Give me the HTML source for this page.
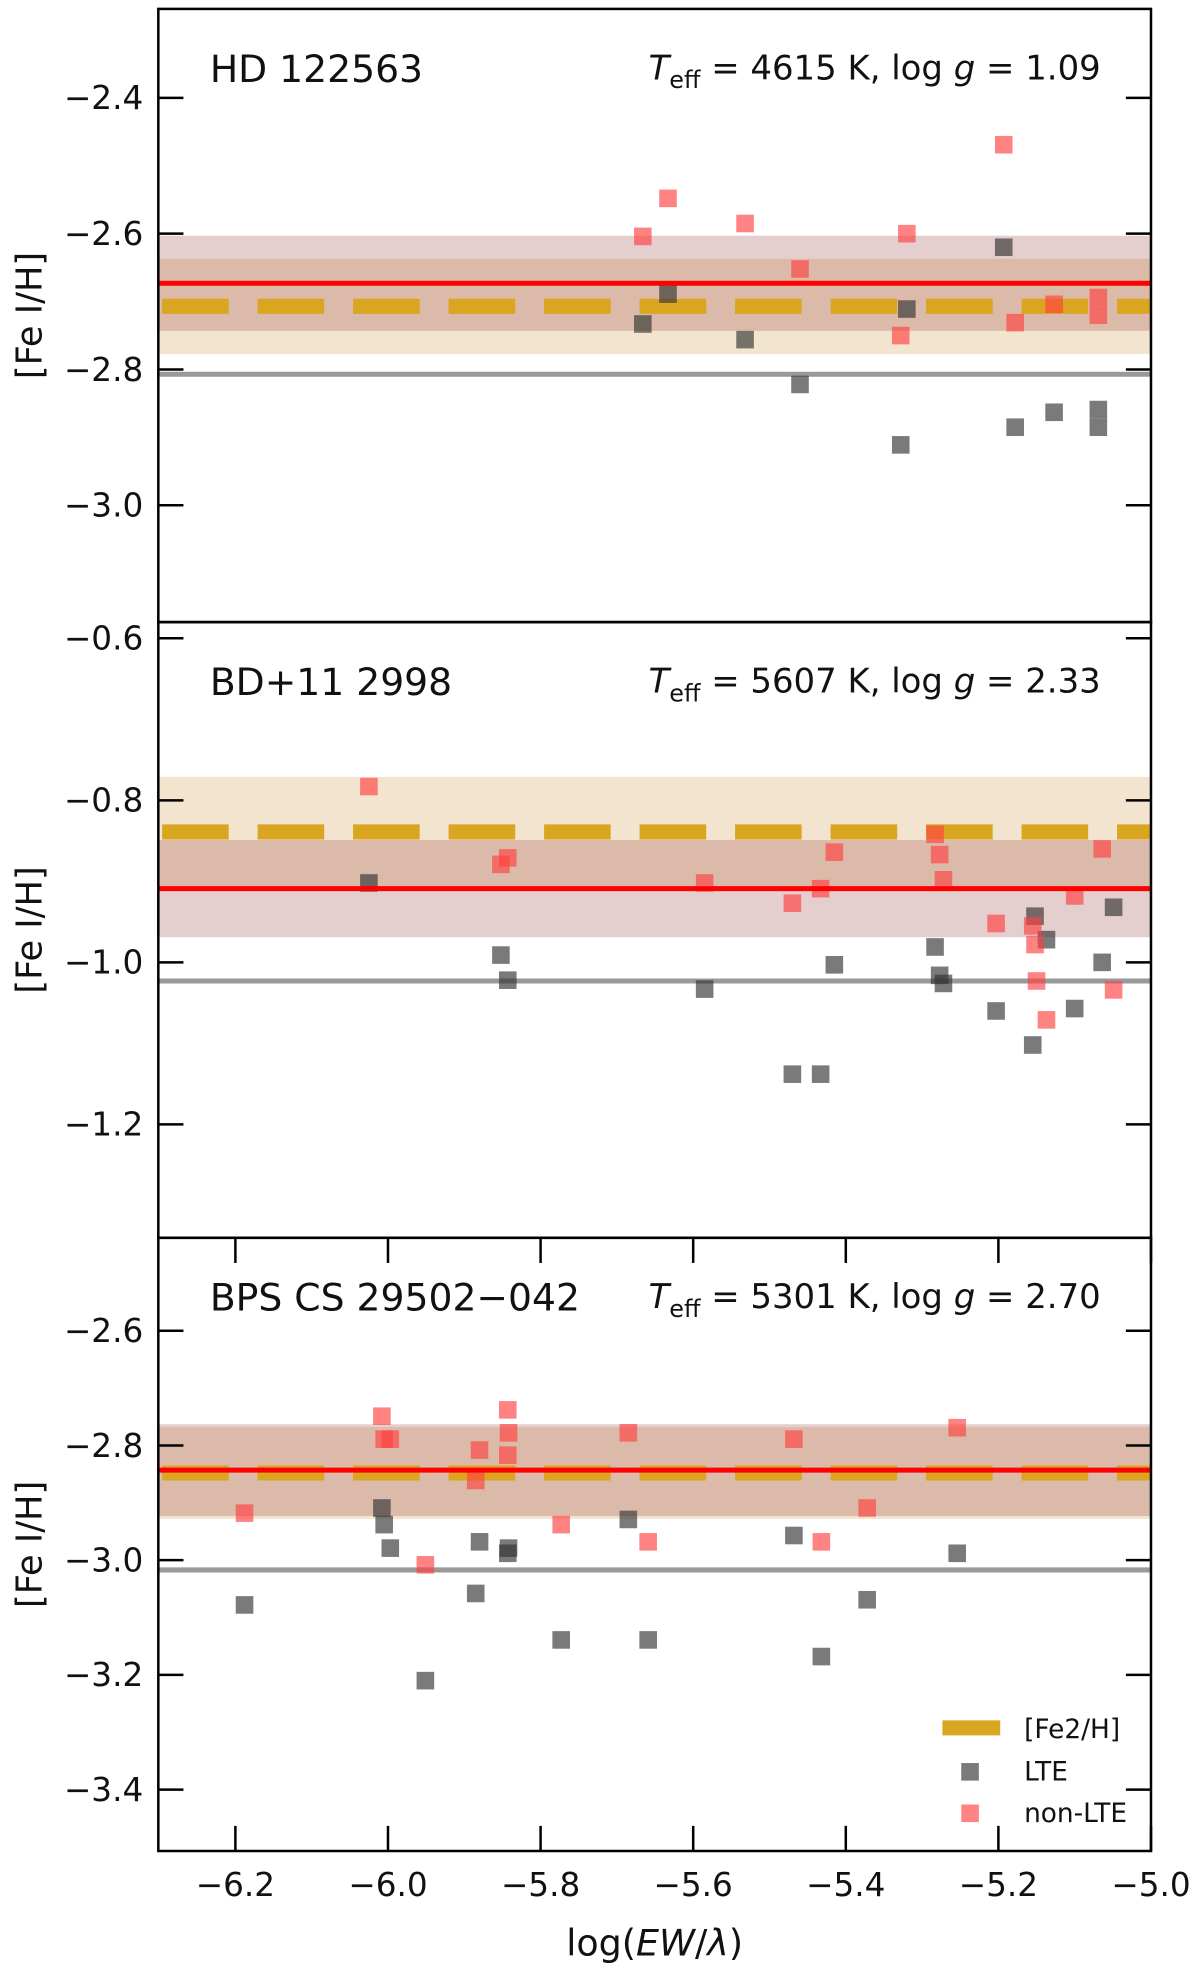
<!DOCTYPE html>
<html><head><meta charset="utf-8"><style>
html,body{margin:0;padding:0;background:#fff}
svg{display:block}
text{font-family:"DejaVu Sans","Liberation Sans",sans-serif;fill:#111}
</style></head><body>
<svg id="chart" width="1200" height="1973" viewBox="0 0 955 1570" xmlns="http://www.w3.org/2000/svg"></svg>
<script>
// ---- Data ----
const xTicks = [-6.2, -6.0, -5.8, -5.6, -5.4, -5.2, -5.0];
const p1Name = "HD 122563";
const p1Params = ["4615", "1.09"];
const p1YTicks = [-2.4, -2.6, -2.8, -3.0];
const p1LteX = [-5.666, -5.633, -5.532, -5.460, -5.328, -5.320, -5.193, -5.178, -5.127, -5.069, -5.069];
const p1LteY = [-2.733, -2.689, -2.756, -2.822, -2.911, -2.711, -2.620, -2.885, -2.863, -2.859, -2.885];
const p1NlteX = [-5.666, -5.633, -5.532, -5.460, -5.328, -5.320, -5.193, -5.178, -5.127, -5.069, -5.069];
const p1NlteY = [-2.604, -2.548, -2.585, -2.652, -2.750, -2.600, -2.469, -2.731, -2.704, -2.694, -2.720];
const p1Lines = [-2.673, -2.707, -2.807]; // nlte mean, fe2, lte mean
const p1Sig = [0.07, 0.07];

const p2Name = "BD+11 2998";
const p2Params = ["5607", "2.33"];
const p2YTicks = [-0.6, -0.8, -1.0, -1.2];
const p2LteX = [-6.025, -5.852, -5.843, -5.585, -5.470, -5.433, -5.415, -5.283, -5.277, -5.272, -5.203, -5.155, -5.152, -5.137, -5.100, -5.064, -5.049];
const p2LteY = [-0.902, -0.991, -1.022, -1.033, -1.138, -1.138, -1.003, -0.981, -1.016, -1.026, -1.060, -1.102, -0.943, -0.972, -1.057, -1.000, -0.932];
const p2NlteX = [-6.025, -5.852, -5.843, -5.585, -5.470, -5.433, -5.415, -5.283, -5.277, -5.272, -5.203, -5.155, -5.152, -5.150, -5.137, -5.100, -5.064, -5.049];
const p2NlteY = [-0.783, -0.879, -0.871, -0.902, -0.927, -0.909, -0.864, -0.842, -0.867, -0.898, -0.952, -0.955, -0.978, -1.023, -1.071, -0.918, -0.860, -1.034];
const p2Lines = [-0.909, -0.839, -1.023];
const p2Sig = [0.06, 0.068];

const p3Name = "BPS CS 29502\u2212042";
const p3Params = ["5301", "2.70"];
const p3YTicks = [-2.6, -2.8, -3.0, -3.2, -3.4];
const p3LteX = [-6.188, -6.008, -6.005, -5.997, -5.951, -5.885, -5.880, -5.843, -5.842, -5.773, -5.685, -5.659, -5.468, -5.432, -5.372, -5.254];
const p3LteY = [-3.078, -2.909, -2.938, -2.979, -3.210, -3.058, -2.968, -2.988, -2.979, -3.139, -2.929, -3.139, -2.957, -3.168, -3.069, -2.988];
const p3NlteX = [-6.188, -6.008, -6.005, -5.997, -5.951, -5.885, -5.880, -5.843, -5.843, -5.842, -5.773, -5.685, -5.659, -5.468, -5.432, -5.372, -5.254];
const p3NlteY = [-2.918, -2.749, -2.789, -2.789, -3.008, -2.861, -2.808, -2.817, -2.738, -2.778, -2.938, -2.778, -2.968, -2.789, -2.968, -2.909, -2.769];
const p3Lines = [-2.843, -2.848, -3.017];
const p3Sig = [0.08, 0.08];

const NS = "http://www.w3.org/2000/svg";
const svg = document.getElementById('chart');
const L = 126, R = 916, XMIN = -6.301, XMAX = -5.0;
const xs = v => L + (v - XMIN) / (XMAX - XMIN) * (R - L);
function mk(tag, attrs, parent) {
  const e = document.createElementNS(NS, tag);
  for (const k in attrs) e.setAttribute(k, attrs[k]);
  (parent || svg).appendChild(e);
  return e;
}
function panel(id, top, bot, ymax, ymin, name, params, yt, lx, ly, nx, ny, lines, sig, last) {
  const g = mk('g', {});
  
  
  const ys = v => top + (ymax - v) / (ymax - ymin) * (bot - top);
  const clip = mk('clipPath', {id: id + '-clip'}, g);
  mk('rect', {x: L, y: top, width: R - L, height: bot - top}, clip);
  const inner = mk('g', {'clip-path': 'url(#' + id + '-clip)'}, g);
  const b1 = mk('rect', {x: L, y: ys(lines[1] + sig[1]), width: R - L, height: ys(lines[1] - sig[1]) - ys(lines[1] + sig[1]), fill: 'rgb(215,165,95)', 'fill-opacity': 0.3}, inner);
  
  
  const b2 = mk('rect', {x: L, y: ys(lines[0] + sig[0]), width: R - L, height: ys(lines[0] - sig[0]) - ys(lines[0] + sig[0]), fill: 'rgb(150,60,60)', 'fill-opacity': 0.25}, inner);
  
  
  const gl = mk('line', {x1: L, x2: R, y1: ys(lines[2]), y2: ys(lines[2]), stroke: '#999', 'stroke-width': 4}, inner);
  
  
  const dl = mk('line', {x1: L + 3, x2: R, y1: ys(lines[1]), y2: ys(lines[1]), stroke: '#daa520', 'stroke-width': 12, 'stroke-dasharray': '53 23'}, inner);
  
  
  for (let i = 0; i < lx.length; i++) {
    const r = mk('rect', {x: xs(lx[i]) - 7, y: ys(ly[i]) - 7, width: 14, height: 14, fill: '#333', 'fill-opacity': 0.65}, inner);
    
    
  }
  for (let i = 0; i < nx.length; i++) {
    const r = mk('rect', {x: xs(nx[i]) - 7, y: ys(ny[i]) - 7, width: 14, height: 14, fill: '#ff4040', 'fill-opacity': 0.65}, inner);
    
    
  }
  const rl = mk('line', {x1: L, x2: R, y1: ys(lines[0]), y2: ys(lines[0]), stroke: '#ff0000', 'stroke-width': 4}, inner);
  
  
  // frame
  mk('rect', {x: L, y: top, width: R - L, height: bot - top, fill: 'none', stroke: '#000', 'stroke-width': 2}, g);
  yt.forEach(v => {
    const y = ys(v);
    mk('line', {x1: L, x2: L + 20, y1: y, y2: y, stroke: '#000', 'stroke-width': 2}, g);
    mk('line', {x1: R - 20, x2: R, y1: y, y2: y, stroke: '#000', 'stroke-width': 2}, g);
    const t = mk('text', {x: L - 12, y: y + 9, 'text-anchor': 'end', 'font-size': 26}, g);
    t.textContent = v.toFixed(1).replace('-', '\u2212');
    
    
  });
  if (last) {
    xTicks.forEach(v => {
      const x = xs(v);
      mk('line', {x1: x, x2: x, y1: top, y2: top + 20, stroke: '#000', 'stroke-width': 2}, g);
      mk('line', {x1: x, x2: x, y1: bot - 20, y2: bot, stroke: '#000', 'stroke-width': 2}, g);
      const t = mk('text', {x: x, y: bot + 36, 'text-anchor': 'middle', 'font-size': 26}, g);
      t.textContent = v.toFixed(1).replace('-', '\u2212');
      
      
    });
  }
  const nt = mk('text', {x: 167, y: top + 58, 'font-size': 30}, g);
  nt.textContent = name;
  
  
  const pt = mk('text', {x: 876, y: top + 56, 'text-anchor': 'end', 'font-size': 27}, g);
  pt.innerHTML = '<tspan font-style="italic">T</tspan><tspan font-size="19" dy="7">eff</tspan><tspan dy="-7"> = ' + params[0] + ' K, log </tspan><tspan font-style="italic">g</tspan><tspan> = ' + params[1] + '</tspan>';
  
  
  const yl = mk('text', {x: 0, y: 0, 'text-anchor': 'middle', 'font-size': 28, transform: 'translate(33,' + ((top + bot) / 2) + ') rotate(-90)'}, g);
  yl.textContent = '[Fe I/H]';
  
  
}
panel('panel-hd122563', 7, 495, -2.269, -3.172, p1Name, p1Params, p1YTicks, p1LteX, p1LteY, p1NlteX, p1NlteY, p1Lines, p1Sig, false);
panel('panel-bd11-2998', 495, 985, -0.58, -1.34, p2Name, p2Params, p2YTicks, p2LteX, p2LteY, p2NlteX, p2NlteY, p2Lines, p2Sig, false);
panel('panel-cs29502', 985, 1473, -2.438, -3.507, p3Name, p3Params, p3YTicks, p3LteX, p3LteY, p3NlteX, p3NlteY, p3Lines, p3Sig, true);

const xl = mk('text', {x: 521, y: 1556, 'text-anchor': 'middle', 'font-size': 29});
xl.innerHTML = 'log(<tspan font-style="italic">EW</tspan>/<tspan font-style="italic">λ</tspan>)';



const lg = mk('g', {});


mk('line', {x1: 750, x2: 796, y1: 1375, y2: 1375, stroke: '#daa520', 'stroke-width': 12}, lg);
mk('rect', {x: 765, y: 1403, width: 14, height: 14, fill: '#333', 'fill-opacity': 0.65}, lg);
mk('rect', {x: 765, y: 1436, width: 14, height: 14, fill: '#ff4040', 'fill-opacity': 0.65}, lg);
[['[Fe2/H]', 1383], ['LTE', 1417], ['non-LTE', 1450]].forEach(([s, y]) => {
  const t = mk('text', {x: 815, y: y, 'font-size': 21}, lg);
  t.textContent = s;
  
  
});
</script>
</body></html>
